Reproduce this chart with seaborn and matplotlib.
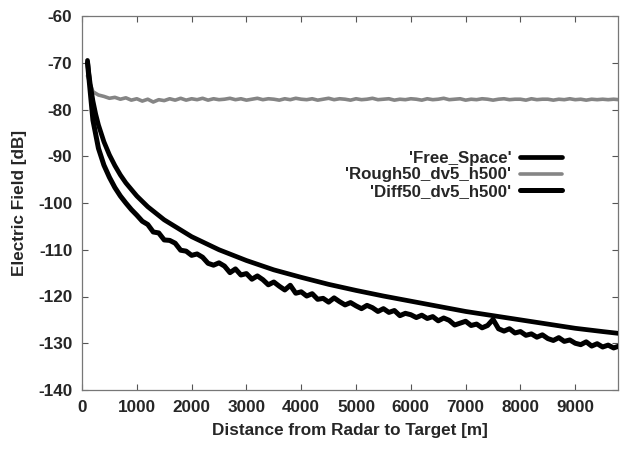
import matplotlib
matplotlib.use("Agg")
import matplotlib.pyplot as plt
import seaborn as sns
import pandas as pd

# ---------------- data ----------------
fs_x = [100, 120, 150, 200, 250, 300, 400, 500, 600, 700, 800, 1000, 1200, 1500,
        2000, 2500, 3000, 3500, 4000, 4500, 5000, 5500, 6000, 6500, 7000, 7500,
        8000, 8500, 9000, 9500, 9800]
fs_y = [-69.5, -71.8, -74.6, -78.2, -81.0, -83.3, -86.9, -89.7, -92.0, -94.0, -95.7,
        -98.5, -100.8, -103.6, -107.2, -110.0, -112.3, -114.3, -115.9, -117.4,
        -118.7, -119.9, -121.0, -122.1, -123.2, -124.1, -125.0, -125.9, -126.8,
        -127.5, -127.9]

grid_x = list(range(100, 9801, 100))

diff_y = [-70.0, -82.3, -88.3, -91.9, -94.5, -96.7, -98.5, -100.0, -101.4, -102.6,
          -103.9, -104.6, -106.2, -106.4, -107.9, -108.0, -108.6, -110.1, -110.3, -111.2,
          -110.9, -111.6, -112.9, -113.3, -112.8, -113.5, -114.9, -114.1, -115.4, -115.1,
          -116.3, -115.6, -116.4, -117.5, -116.9, -117.8, -118.6, -117.6, -119.3, -119.0,
          -119.9, -119.4, -120.6, -120.4, -121.2, -120.3, -121.1, -121.8, -121.3, -122.0,
          -122.6, -121.9, -122.4, -123.2, -122.6, -123.4, -123.0, -124.1, -123.6, -123.9,
          -124.5, -124.0, -124.7, -124.3, -125.2, -124.6, -125.1, -126.1, -125.7, -125.3,
          -126.2, -125.9, -126.7, -126.2, -124.9, -126.9, -127.4, -126.9, -127.8, -127.5,
          -128.3, -128.0, -128.7, -128.2, -129.0, -129.4, -128.8, -129.6, -129.3, -130.0,
          -130.3, -129.7, -130.6, -130.1, -130.8, -130.4, -131.0, -130.6]

rough_y = [-72.8, -76.2, -76.9, -77.2, -77.6, -77.4, -77.8, -77.5, -78.0, -77.7,
           -78.2, -77.8, -78.4, -77.9, -78.1, -77.7, -78.0, -77.6, -78.0, -77.7,
           -77.9, -77.6, -78.0, -77.7, -77.9, -77.8, -77.6, -77.9, -77.7, -78.0,
           -77.8, -77.6, -77.9, -77.7, -77.8, -78.0, -77.7, -77.9, -77.6, -77.8,
           -77.9, -77.7, -78.0, -77.8, -77.6, -77.9, -77.7, -77.8, -78.0, -77.7,
           -77.9, -77.8, -77.6, -77.9, -77.8, -77.7, -78.0, -77.8, -77.9, -77.7,
           -77.8, -78.0, -77.7, -77.9, -77.8, -77.6, -77.9, -77.8, -77.7, -78.0,
           -77.8, -77.9, -77.7, -77.8, -78.0, -77.8, -77.7, -77.9, -77.8, -77.8,
           -78.0, -77.7, -77.9, -77.8, -77.8, -78.0, -77.8, -77.9, -77.7, -77.9,
           -77.8, -78.0, -77.8, -77.9, -77.8, -77.9, -77.8, -77.9]

labels = ["'Free_Space'", "'Rough50_dv5_h500'", "'Diff50_dv5_h500'"]
x_ticks = [0, 1000, 2000, 3000, 4000, 5000, 6000, 7000, 8000, 9000]
y_ticks = [-140, -130, -120, -110, -100, -90, -80, -70, -60]

# ---------------- style ----------------
sns.set_theme(style="white")
plt.rcParams["font.family"] = ["Liberation Sans", "DejaVu Sans"]
plt.rcParams["font.weight"] = "bold"

fig = plt.figure(figsize=(6.24, 4.5), dpi=100)
ax = fig.add_axes([82 / 624, 1 - 390 / 450, (618 - 82) / 624, (390 - 16) / 450])

df_fs = pd.DataFrame({"x": fs_x, "y": fs_y})
df_rough = pd.DataFrame({"x": grid_x, "y": rough_y})
df_diff = pd.DataFrame({"x": grid_x, "y": diff_y})

sns.lineplot(data=df_fs, x="x", y="y", ax=ax, color="black", linewidth=3.4,
             label=labels[0], zorder=3, solid_capstyle="round")
sns.lineplot(data=df_rough, x="x", y="y", ax=ax, color="#858585", linewidth=2.6,
             label=labels[1], zorder=2)
sns.lineplot(data=df_diff, x="x", y="y", ax=ax, color="black", linewidth=3.6,
             label=labels[2], zorder=4, solid_joinstyle="round")

ax.set_xlim(0, 9780)
ax.set_ylim(-140, -60)
ax.set_xticks(x_ticks)
ax.set_yticks(y_ticks)
ax.set_xticklabels([str(t) for t in x_ticks], fontsize=12.3, fontweight="bold")
ax.set_yticklabels([str(t) for t in y_ticks], fontsize=12.3, fontweight="bold")
ax.tick_params(axis="both", which="major", direction="in", length=4, width=0.8,
               color="#555555", top=True, right=True, bottom=True, left=True)
ax.tick_params(axis="x", pad=7)
ax.tick_params(axis="y", pad=7)

ax.set_xlabel("Distance from Radar to Target [m]", fontsize=12.3, fontweight="bold", labelpad=6)
ax.set_ylabel("Electric Field [dB]", fontsize=12.3, fontweight="bold", labelpad=8)

for s in ax.spines.values():
    s.set_visible(True)
    s.set_color("#777777")
    s.set_linewidth(0.9)
    s.set_linestyle((0, (3, 1)))

ax.grid(False)

leg = ax.legend(loc="center right", bbox_to_anchor=(562 / 624, 1 - 175 / 450),
                bbox_transform=fig.transFigure, frameon=False, markerfirst=False,
                handlelength=2.5, handletextpad=0.5, labelspacing=0.1,
                borderpad=0, borderaxespad=0, prop={"size": 12.2, "weight": "bold"})
for t in leg.get_texts():
    t.set_ha("right")

fig.savefig("out.png", dpi=100)
